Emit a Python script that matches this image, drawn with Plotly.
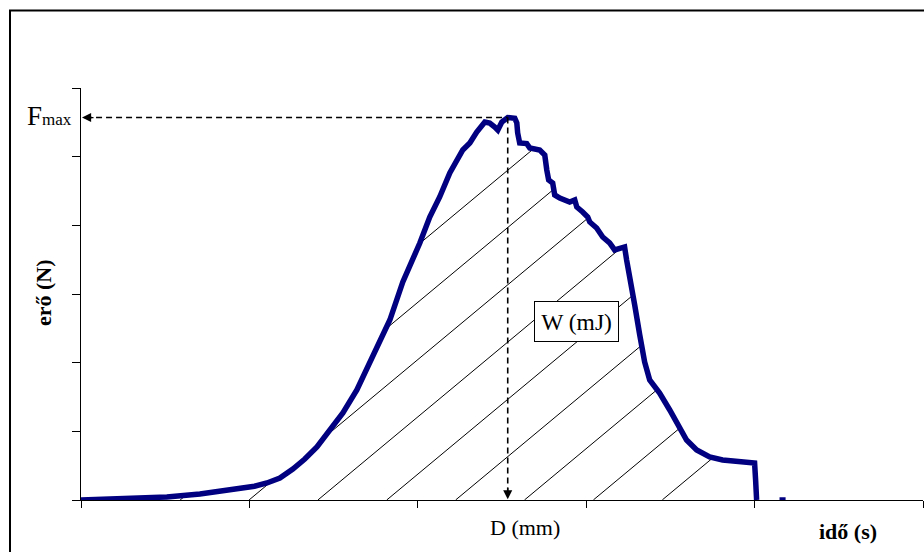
import numpy as np
import plotly.graph_objects as go

# Impact test record: time (s) against force (N), arbitrary axis units
time_s = [0.000, 0.172, 0.350, 0.510, 0.706, 0.902, 1.030, 1.104, 1.181, 1.258,
          1.329, 1.401, 1.478, 1.555, 1.638, 1.715, 1.774, 1.834, 1.911, 1.964,
          2.012, 2.071, 2.130, 2.190, 2.231, 2.267, 2.309, 2.350, 2.398, 2.427,
          2.457, 2.475, 2.499, 2.516, 2.534, 2.576, 2.588, 2.593, 2.605, 2.647,
          2.665, 2.724, 2.754, 2.766, 2.777, 2.801, 2.813, 2.843, 2.902, 2.932,
          2.944, 2.979, 3.009, 3.021, 3.062, 3.098, 3.139, 3.169, 3.199, 3.228,
          3.240, 3.258, 3.288, 3.318, 3.347, 3.377, 3.436, 3.496, 3.555, 3.596,
          3.656, 3.733, 3.810, 3.911, 4.000, 4.006, 4.012]
force_n = [0.000, 0.015, 0.022, 0.044, 0.087, 0.146, 0.200, 0.248, 0.320, 0.451,
           0.597, 0.772, 1.019, 1.267, 1.602, 1.995, 2.330, 2.621, 3.175, 3.466,
           3.743, 4.121, 4.413, 4.762, 4.951, 5.097, 5.199, 5.359, 5.505, 5.490,
           5.432, 5.388, 5.505, 5.549, 5.570, 5.560, 5.490, 5.345, 5.199, 5.190,
           5.126, 5.097, 5.024, 4.806, 4.660, 4.616, 4.442, 4.398, 4.340, 4.369,
           4.267, 4.194, 4.121, 4.049, 3.961, 3.830, 3.743, 3.641, 3.655, 3.685,
           3.495, 3.204, 2.840, 2.403, 2.010, 1.748, 1.558, 1.311, 1.063, 0.874,
           0.728, 0.626, 0.583, 0.553, 0.539, 0.291, 0.000]
# samples recorded after the specimen broke
tail_time_s = [4.148, 4.184]
tail_force_n = [0.0, 0.0]

x_ticks = [0, 1, 2, 3, 4, 5]
y_ticks = [0, 1, 2, 3, 4, 5, 6]

W, H = 924, 552
ML, MR, MT, MB = 81, 1, 88, 52
SERIF = "Liberation Serif, Times New Roman, serif"


def pxx(p):
    return (p - ML) / (W - ML - MR)


def pxy(p):
    return (H - MB - p) / (H - MT - MB)


t = np.array(time_s)
f = np.array(force_n)
i_peak = int(np.argmax(f))
t_peak, f_max = t[i_peak], f[i_peak]

# diagonal hatching of the area under the curve (work W)
HATCH_SLOPE = 2.04      # force units per time unit
HATCH_STEP = 0.4089     # spacing of the hatch lines along the time axis
HATCH_START = 0.18
xs = np.linspace(0, t[-1], 4000)
env = np.interp(xs, t, f)
hx, hy = [], []
for x0 in HATCH_START + HATCH_STEP * np.arange(9):
    yl = HATCH_SLOPE * (xs - x0)
    idx = np.flatnonzero((yl >= 0) & (yl <= env))
    if idx.size == 0:
        continue
    cut = np.flatnonzero(np.diff(idx) > 1)
    starts = np.r_[idx[0], idx[cut + 1]]
    ends = np.r_[idx[cut], idx[-1]]
    for s, e in zip(starts, ends):
        hx += [xs[s], xs[e], None]
        hy += [yl[s], yl[e], None]

fig = go.Figure()
fig.add_trace(go.Scatter(x=hx, y=hy, mode="lines",
                         line=dict(color="black", width=1), hoverinfo="skip"))
fig.add_trace(go.Scatter(x=time_s + [None] + tail_time_s,
                         y=force_n + [None] + tail_force_n, mode="lines",
                         line=dict(color="#000080", width=5.5)))

dash = dict(color="black", width=1.6, dash="6px,4px")
shapes = [
    # outer frame
    dict(type="rect", xref="paper", yref="paper", x0=pxx(10), x1=pxx(960),
         y0=pxy(600), y1=pxy(10.5), line=dict(color="black", width=2),
         fillcolor="rgba(0,0,0,0)", layer="below"),
    # guide lines to the maximum force
    dict(type="line", xref="x", yref="y", x0=0.03, x1=t_peak, y0=f_max, y1=f_max,
         line=dash),
    dict(type="line", xref="x", yref="y", x0=t_peak, x1=t_peak, y0=f_max, y1=0.07,
         line=dash),
]

arrow = dict(text="", showarrow=True, arrowhead=2, arrowsize=1.4, arrowwidth=1.3,
             arrowcolor="black", standoff=0, xref="x", yref="y")
annotations = [
    dict(arrow, x=0.006, y=f_max, ax=13, ay=0),
    dict(arrow, x=t_peak, y=0.01, ax=0, ay=-13),
    dict(text='F<span style="font-size:17px">max</span>', xref="paper", yref="paper",
         x=pxx(74), y=pxy(116), xanchor="right", yanchor="middle", showarrow=False,
         font=dict(family=SERIF, size=27, color="black")),
    dict(text="<b>erő (N)</b>", xref="paper", yref="paper", x=pxx(43), y=pxy(293),
         xanchor="center", yanchor="middle", textangle=-90, showarrow=False,
         font=dict(family=SERIF, size=22, color="black")),
    dict(text="D (mm)", xref="paper", yref="paper", x=pxx(525), y=pxy(527),
         xanchor="center", yanchor="middle", showarrow=False,
         font=dict(family=SERIF, size=22, color="black")),
    dict(text="<b>idő (s)</b>", xref="paper", yref="paper", x=pxx(848), y=pxy(531),
         xanchor="center", yanchor="middle", showarrow=False,
         font=dict(family=SERIF, size=22, color="black")),
    dict(text="W (mJ)", xref="paper", yref="paper", x=pxx(576.5), y=pxy(321),
         xanchor="center", yanchor="middle", showarrow=False,
         bgcolor="white", bordercolor="black", borderwidth=1, borderpad=1,
         width=81, height=37,
         font=dict(family=SERIF, size=23.5, color="black")),
]

axis_common = dict(showline=True, linecolor="black", linewidth=1, ticks="outside",
                   tickcolor="black", tickwidth=1, showticklabels=False,
                   showgrid=False, zeroline=False, fixedrange=True)

fig.update_layout(
    width=W, height=H, autosize=False,
    margin=dict(l=ML, r=MR, t=MT, b=MB, pad=0),
    paper_bgcolor="white", plot_bgcolor="white",
    showlegend=False,
    xaxis=dict(axis_common, range=[0, 5], tickvals=x_ticks, ticklen=7),
    yaxis=dict(axis_common, range=[0, 6], tickvals=y_ticks, ticklen=8),
    shapes=shapes,
    annotations=annotations,
)

fig.write_html("out.html")
